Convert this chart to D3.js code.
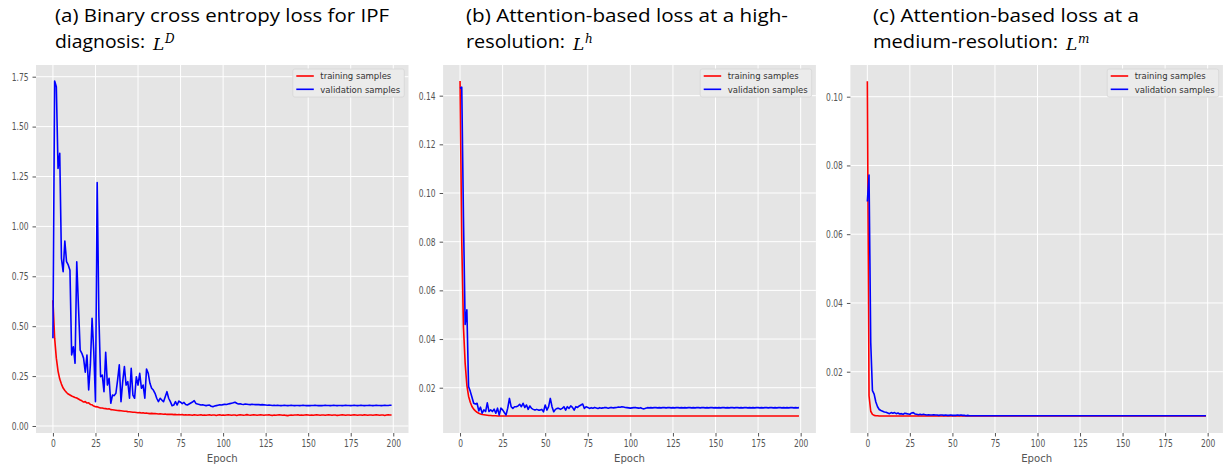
<!DOCTYPE html>
<html><head><meta charset="utf-8">
<script src="https://cdn.jsdelivr.net/npm/d3@7"></script>
<style>body{margin:0;background:#fff;} svg{display:block;}</style>
</head><body>
<svg id="chart" width="1228" height="468"></svg>
<script>
// ---------------- data ----------------
const epochs = d3.range(0, 200);
const xTicks = [0, 25, 50, 75, 100, 125, 150, 175, 200];
const yTicksA = [0.00, 0.25, 0.50, 0.75, 1.00, 1.25, 1.50, 1.75];
const yTicksB = [0.02, 0.04, 0.06, 0.08, 0.10, 0.12, 0.14];
const yTicksC = [0.02, 0.04, 0.06, 0.08, 0.10];
const seriesNames = ["training samples", "validation samples"];
const xLabel = "Epoch";

const trainA = [
0.63,0.44,0.34,0.275,0.235,0.21,0.19,0.178,0.168,0.16,
0.155,0.15,0.147,0.143,0.14,0.135,0.13,0.126,0.12,0.122,
0.115,0.116,0.108,0.106,0.1,0.097,0.096,0.093,0.09,0.09,
0.088,0.087,0.085,0.086,0.082,0.081,0.08,0.079,0.078,0.077,
0.076,0.075,0.074,0.074,0.072,0.071,0.07,0.069,0.069,0.068,
0.066,0.067,0.065,0.066,0.064,0.065,0.063,0.062,0.063,0.062,
0.062,0.061,0.06,0.061,0.06,0.059,0.06,0.058,0.059,0.058,
0.058,0.057,0.058,0.056,0.057,0.056,0.057,0.055,0.056,0.055,
0.056,0.055,0.054,0.056,0.055,0.054,0.055,0.056,0.054,0.055,
0.054,0.055,0.056,0.054,0.055,0.055,0.053,0.055,0.056,0.054,
0.055,0.054,0.055,0.056,0.055,0.054,0.055,0.055,0.053,0.055,
0.056,0.055,0.054,0.055,0.057,0.055,0.054,0.055,0.056,0.055,
0.054,0.055,0.056,0.055,0.054,0.055,0.055,0.056,0.054,0.053,
0.055,0.054,0.055,0.056,0.055,0.054,0.055,0.053,0.052,0.054,
0.055,0.054,0.055,0.055,0.056,0.054,0.055,0.054,0.055,0.056,
0.055,0.054,0.055,0.054,0.055,0.056,0.055,0.054,0.055,0.055,
0.054,0.055,0.056,0.055,0.054,0.055,0.055,0.053,0.054,0.055,
0.056,0.055,0.054,0.055,0.055,0.054,0.055,0.056,0.055,0.054,
0.055,0.055,0.054,0.056,0.055,0.054,0.055,0.055,0.054,0.055,
0.056,0.055,0.054,0.055,0.055,0.053,0.055,0.056,0.055,0.055];

const validA = [
0.44,1.728,1.70,1.29,1.366,0.84,0.773,0.927,0.823,0.807,
0.78,0.356,0.397,0.314,0.823,0.6,0.38,0.364,0.34,0.27,
0.356,0.18,0.306,0.54,0.372,0.122,1.22,0.55,0.247,0.255,
0.172,0.369,0.205,0.239,0.114,0.155,0.152,0.164,0.23,0.306,
0.122,0.222,0.298,0.205,0.222,0.139,0.289,0.155,0.139,0.247,
0.205,0.264,0.189,0.205,0.139,0.285,0.264,0.214,0.189,0.18,
0.164,0.139,0.122,0.139,0.13,0.122,0.147,0.172,0.139,0.122,
0.102,0.105,0.122,0.105,0.125,0.119,0.112,0.118,0.108,0.105,
0.11,0.115,0.12,0.127,0.113,0.11,0.108,0.105,0.106,0.104,
0.102,0.104,0.105,0.099,0.097,0.1,0.102,0.104,0.106,0.105,
0.107,0.109,0.108,0.11,0.112,0.114,0.116,0.119,0.114,0.11,
0.111,0.109,0.108,0.11,0.109,0.108,0.107,0.109,0.108,0.107,
0.108,0.107,0.106,0.107,0.106,0.105,0.104,0.105,0.104,0.103,
0.104,0.103,0.104,0.103,0.102,0.103,0.104,0.103,0.102,0.103,
0.104,0.103,0.102,0.103,0.103,0.102,0.103,0.104,0.103,0.102,
0.103,0.102,0.103,0.103,0.104,0.103,0.102,0.103,0.102,0.103,
0.104,0.103,0.103,0.102,0.103,0.104,0.103,0.102,0.103,0.103,
0.102,0.103,0.104,0.103,0.103,0.102,0.103,0.104,0.103,0.102,
0.103,0.104,0.103,0.102,0.103,0.103,0.104,0.103,0.102,0.103,
0.104,0.103,0.103,0.102,0.103,0.104,0.103,0.103,0.104,0.104];

const trainB = [
0.146,0.08,0.045,0.03,0.021,0.0165,0.014,0.0123,0.0112,0.0105,
0.0099,0.0095,0.0092,0.009,0.0089,0.0088,0.0087,0.0086,0.0086,0.0085,
0.0085,0.0085,0.0084,0.0084,0.0084,0.0084,0.0084,0.0084,0.0084,0.0084,
0.0084,0.0084,0.0084,0.0084,0.0084,0.0084,0.0084,0.0084,0.0084,0.0084,
0.0084,0.0084,0.0084,0.0084,0.0084,0.0084,0.0084,0.0084,0.0084,0.0084,
0.0084,0.0084,0.0084,0.0084,0.0084,0.0084,0.0084,0.0084,0.0084,0.0084,
0.0084,0.0084,0.0084,0.0084,0.0084,0.0084,0.0084,0.0084,0.0084,0.0084,
0.0084,0.0084,0.0084,0.0084,0.0084,0.0084,0.0084,0.0084,0.0084,0.0084,
0.0084,0.0084,0.0084,0.0084,0.0084,0.0084,0.0084,0.0084,0.0084,0.0084,
0.0084,0.0084,0.0084,0.0084,0.0084,0.0084,0.0084,0.0084,0.0084,0.0084,
0.0084,0.0084,0.0084,0.0084,0.0084,0.0084,0.0084,0.0084,0.0084,0.0084,
0.0084,0.0084,0.0084,0.0084,0.0084,0.0084,0.0084,0.0084,0.0084,0.0084,
0.0084,0.0084,0.0084,0.0084,0.0084,0.0084,0.0084,0.0084,0.0084,0.0084,
0.0084,0.0084,0.0084,0.0084,0.0084,0.0084,0.0084,0.0084,0.0084,0.0084,
0.0084,0.0084,0.0084,0.0084,0.0084,0.0084,0.0084,0.0084,0.0084,0.0084,
0.0084,0.0084,0.0084,0.0084,0.0084,0.0084,0.0084,0.0084,0.0084,0.0084,
0.0084,0.0084,0.0084,0.0084,0.0084,0.0084,0.0084,0.0084,0.0084,0.0084,
0.0084,0.0084,0.0084,0.0084,0.0084,0.0084,0.0084,0.0084,0.0084,0.0084,
0.0084,0.0084,0.0084,0.0084,0.0084,0.0084,0.0084,0.0084,0.0084,0.0084,
0.0084,0.0084,0.0084,0.0084,0.0084,0.0084,0.0084,0.0084,0.0084,0.0084];

const validB = [
0.143,0.1435,0.09,0.046,0.052,0.0205,0.0185,0.0161,0.0136,0.0133,
0.0136,0.0105,0.012,0.0095,0.0109,0.0102,0.0138,0.0102,0.0109,0.0102,
0.0112,0.0095,0.0116,0.0088,0.0116,0.0109,0.0098,0.0088,0.0116,0.0156,
0.0122,0.0115,0.0122,0.0122,0.0125,0.0132,0.0122,0.0136,0.0119,0.0129,
0.0111,0.0125,0.0115,0.0111,0.0108,0.0111,0.0108,0.0108,0.0111,0.0101,
0.0129,0.0108,0.0122,0.0156,0.0122,0.0101,0.0111,0.0115,0.0115,0.0111,
0.0115,0.0122,0.0108,0.0122,0.0115,0.0125,0.0119,0.0108,0.0122,0.0119,
0.0125,0.0129,0.0133,0.0115,0.0122,0.0119,0.0115,0.0118,0.0116,0.0119,
0.0117,0.0115,0.0118,0.0116,0.0117,0.0119,0.0118,0.0116,0.0118,0.0119,
0.0117,0.0118,0.0119,0.0121,0.012,0.0122,0.0121,0.0119,0.0118,0.0117,
0.0116,0.0117,0.0118,0.0119,0.0117,0.0116,0.0118,0.0115,0.0113,0.0116,
0.0118,0.0117,0.0118,0.0117,0.0118,0.0118,0.0117,0.0118,0.0117,0.0118,
0.0118,0.0117,0.0118,0.0118,0.0117,0.0118,0.0117,0.0118,0.0118,0.0117,
0.0118,0.0117,0.0118,0.0117,0.0118,0.0118,0.0117,0.0118,0.0117,0.0118,
0.0118,0.0117,0.0118,0.0118,0.0117,0.0118,0.0117,0.0118,0.0118,0.0117,
0.0118,0.0117,0.0118,0.0117,0.0118,0.0118,0.0117,0.0118,0.0117,0.0118,
0.0118,0.0117,0.0118,0.0118,0.0117,0.0118,0.0117,0.0118,0.0118,0.0117,
0.0118,0.0117,0.0118,0.0117,0.0118,0.0118,0.0117,0.0118,0.0117,0.0118,
0.0118,0.0117,0.0118,0.0118,0.0117,0.0118,0.0117,0.0118,0.0118,0.0117,
0.0118,0.0117,0.0118,0.0117,0.0118,0.0118,0.0117,0.0118,0.0117,0.0118];

const trainC = [
0.1045,0.013,0.0085,0.0076,0.0073,0.0072,0.0072,0.0071,0.0071,0.0071,
0.0071,0.0071,0.0071,0.0071,0.0071,0.0071,0.0071,0.0071,0.0071,0.0071,
0.0071,0.0071,0.0071,0.0071,0.0071,0.0071,0.0071,0.0071,0.0071,0.0071,
0.0071,0.0071,0.0071,0.0071,0.0071,0.0071,0.0071,0.0071,0.0071,0.0071,
0.0071,0.0071,0.0071,0.0071,0.0071,0.0071,0.0071,0.0071,0.0071,0.0071,
0.0071,0.0071,0.0071,0.0071,0.0071,0.0071,0.0071,0.0071,0.0071,0.0071,
0.0071,0.0071,0.0071,0.0071,0.0071,0.0071,0.0071,0.0071,0.0071,0.0071,
0.0071,0.0071,0.0071,0.0071,0.0071,0.0071,0.0071,0.0071,0.0071,0.0071,
0.0071,0.0071,0.0071,0.0071,0.0071,0.0071,0.0071,0.0071,0.0071,0.0071,
0.0071,0.0071,0.0071,0.0071,0.0071,0.0071,0.0071,0.0071,0.0071,0.0071,
0.0071,0.0071,0.0071,0.0071,0.0071,0.0071,0.0071,0.0071,0.0071,0.0071,
0.0071,0.0071,0.0071,0.0071,0.0071,0.0071,0.0071,0.0071,0.0071,0.0071,
0.0071,0.0071,0.0071,0.0071,0.0071,0.0071,0.0071,0.0071,0.0071,0.0071,
0.0071,0.0071,0.0071,0.0071,0.0071,0.0071,0.0071,0.0071,0.0071,0.0071,
0.0071,0.0071,0.0071,0.0071,0.0071,0.0071,0.0071,0.0071,0.0071,0.0071,
0.0071,0.0071,0.0071,0.0071,0.0071,0.0071,0.0071,0.0071,0.0071,0.0071,
0.0071,0.0071,0.0071,0.0071,0.0071,0.0071,0.0071,0.0071,0.0071,0.0071,
0.0071,0.0071,0.0071,0.0071,0.0071,0.0071,0.0071,0.0071,0.0071,0.0071,
0.0071,0.0071,0.0071,0.0071,0.0071,0.0071,0.0071,0.0071,0.0071,0.0071,
0.0071,0.0071,0.0071,0.0071,0.0071,0.0071,0.0071,0.0071,0.0071,0.0071];

const validC = [
0.0695,0.0772,0.0285,0.0145,0.0135,0.0112,0.0098,0.009,0.0087,0.0085,
0.0083,0.0082,0.008,0.0078,0.0081,0.0079,0.0081,0.0078,0.008,0.0077,
0.0078,0.0076,0.0079,0.0078,0.0077,0.0076,0.008,0.0081,0.0077,0.0076,
0.0075,0.0076,0.0075,0.0076,0.0075,0.0074,0.0075,0.0074,0.0074,0.0075,
0.0074,0.0074,0.0073,0.0074,0.0074,0.0073,0.0074,0.0073,0.0073,0.0074,
0.0073,0.0073,0.0073,0.0074,0.0073,0.0074,0.0073,0.0073,0.0072,0.0073,
0.0072,0.0072,0.0072,0.0072,0.0072,0.0072,0.0072,0.0072,0.0072,0.0072,
0.0072,0.0072,0.0072,0.0072,0.0072,0.0072,0.0072,0.0072,0.0072,0.0072,
0.0072,0.0072,0.0072,0.0072,0.0072,0.0072,0.0072,0.0072,0.0072,0.0072,
0.0072,0.0072,0.0072,0.0072,0.0072,0.0072,0.0072,0.0072,0.0072,0.0072,
0.0072,0.0072,0.0072,0.0072,0.0072,0.0072,0.0072,0.0072,0.0072,0.0072,
0.0072,0.0072,0.0072,0.0072,0.0072,0.0072,0.0072,0.0072,0.0072,0.0072,
0.0072,0.0072,0.0072,0.0072,0.0072,0.0072,0.0072,0.0072,0.0072,0.0072,
0.0072,0.0072,0.0072,0.0072,0.0072,0.0072,0.0072,0.0072,0.0072,0.0072,
0.0072,0.0072,0.0072,0.0072,0.0072,0.0072,0.0072,0.0072,0.0072,0.0072,
0.0072,0.0072,0.0072,0.0072,0.0072,0.0072,0.0072,0.0072,0.0072,0.0072,
0.0072,0.0072,0.0072,0.0072,0.0072,0.0072,0.0072,0.0072,0.0072,0.0072,
0.0072,0.0072,0.0072,0.0072,0.0072,0.0072,0.0072,0.0072,0.0072,0.0072,
0.0072,0.0072,0.0072,0.0072,0.0072,0.0072,0.0072,0.0072,0.0072,0.0072,
0.0072,0.0072,0.0072,0.0072,0.0072,0.0072,0.0072,0.0072,0.0072,0.0072];

const titlesLine1 = ["(a) Binary cross entropy loss for IPF", "(b) Attention-based loss at a high-", "(c) Attention-based loss at a"];
const titlesLine2 = ["diagnosis:", "resolution:", "medium-resolution:"];
const titleSym = ["D", "h", "m"];

// ---------------- layout ----------------
const svg = d3.select("#chart");
const TOP = 65, BOTTOM = 433;
const panels = [
  { left: 36, right: 408.5, yDomain: [-0.0351, 1.8086], yTicks: yTicksA, train: trainA, valid: validA,
    tx: 55, w1: 334, w2: 90 },
  { left: 443.1, right: 815.9, yDomain: [0.00139, 0.1526], yTicks: yTicksB, train: trainB, valid: validB,
    tx: 466, w1: 322, w2: 99 },
  { left: 850.4, right: 1222.9, yDomain: [0.00217, 0.10922], yTicks: yTicksC, train: trainC, valid: validC,
    tx: 873, w1: 266, w2: 185 }
];
const SX = 0.72; // horizontal squash of the small matplotlib texts

panels.forEach((p, i) => {
  const x = d3.scaleLinear().domain([-9.95, 208.95]).range([p.left, p.right]);
  const y = d3.scaleLinear().domain(p.yDomain).range([BOTTOM, TOP]);
  const g = svg.append("g");

  g.append("rect").attr("x", p.left).attr("y", TOP)
    .attr("width", p.right - p.left).attr("height", BOTTOM - TOP).attr("fill", "#e5e5e5");

  // grid
  g.append("g").selectAll("line").data(xTicks).join("line")
    .attr("x1", d => x(d)).attr("x2", d => x(d)).attr("y1", TOP).attr("y2", BOTTOM)
    .attr("stroke", "#fff").attr("stroke-width", 1);
  g.append("g").selectAll("line").data(p.yTicks).join("line")
    .attr("x1", p.left).attr("x2", p.right).attr("y1", d => y(d)).attr("y2", d => y(d))
    .attr("stroke", "#fff").attr("stroke-width", 1);

  // axes
  const fmt = d3.format(".2f");
  const ax = g.append("g").attr("transform", `translate(0,${BOTTOM})`)
    .call(d3.axisBottom(x).tickValues(xTicks).tickSize(3.5).tickPadding(3));
  ax.select(".domain").remove();
  ax.selectAll(".tick line").attr("stroke", "#555");
  ax.selectAll(".tick text").attr("fill", "#555").attr("font-size", 10.5)
    .attr("font-family", "DejaVu Sans").attr("y", 14.5).attr("dy", 0)
    .attr("transform", `scale(${SX},1)`);

  const ay = g.append("g").attr("transform", `translate(${p.left},0)`)
    .call(d3.axisLeft(y).tickValues(p.yTicks).tickFormat(fmt).tickSize(3.5).tickPadding(3));
  ay.select(".domain").remove();
  ay.selectAll(".tick line").attr("stroke", "#555");
  ay.selectAll(".tick text").attr("fill", "#555").attr("font-size", 10.5)
    .attr("font-family", "DejaVu Sans").attr("x", -7.5 / SX)
    .attr("transform", `scale(${SX},1)`);

  // lines
  const line = d3.line().x((d, k) => x(epochs[k])).y(d => y(d));
  g.append("path").datum(p.train).attr("d", line).attr("fill", "none")
    .attr("stroke", "#ff0000").attr("stroke-width", 1.6).attr("stroke-linejoin", "round");
  g.append("path").datum(p.valid).attr("d", line).attr("fill", "none")
    .attr("stroke", "#0000ff").attr("stroke-width", 1.6).attr("stroke-linejoin", "round");

  // legend
  const bw = 111.5, bl = p.right - 4.2 - bw;
  const lg = g.append("g");
  lg.append("rect").attr("x", bl).attr("y", TOP + 4).attr("width", bw).attr("height", 28)
    .attr("rx", 2).attr("fill", "#ebebeb").attr("stroke", "#d6d6d6").attr("stroke-width", 0.8);
  const colors = ["#ff0000", "#0000ff"];
  const widths = [71, 80];
  seriesNames.forEach((nm, k) => {
    const ly = TOP + 11 + k * 13.3;
    lg.append("line").attr("x1", bl + 3.5).attr("x2", bl + 21).attr("y1", ly).attr("y2", ly)
      .attr("stroke", colors[k]).attr("stroke-width", 1.6);
    lg.append("text").attr("x", bl + 27.5).attr("y", ly + 3.2).text(nm)
      .attr("font-family", "DejaVu Sans").attr("font-size", 9.5).attr("fill", "#333")
      .attr("textLength", widths[k]).attr("lengthAdjust", "spacingAndGlyphs");
  });

  // x label
  g.append("text").attr("x", (p.left + p.right) / 2).attr("y", 461.5).attr("text-anchor", "middle")
    .attr("font-family", "DejaVu Sans").attr("font-size", 11).attr("fill", "#555")
    .attr("textLength", 31).attr("lengthAdjust", "spacingAndGlyphs").text(xLabel);

  // titles
  g.append("text").attr("x", p.tx).attr("y", 22).text(titlesLine1[i])
    .attr("font-family", "Open Sans").attr("font-size", 19).attr("fill", "#000")
    .attr("textLength", p.w1).attr("lengthAdjust", "spacingAndGlyphs");
  g.append("text").attr("x", p.tx).attr("y", 48).text(titlesLine2[i])
    .attr("font-family", "Open Sans").attr("font-size", 19).attr("fill", "#000")
    .attr("textLength", p.w2).attr("lengthAdjust", "spacingAndGlyphs");
  const mx = p.tx + p.w2 + 8;
  g.append("text").attr("x", mx).attr("y", 50)
    .attr("font-family", "DejaVu Serif").attr("font-style", "italic").attr("fill", "#000")
    .attr("font-size", 17).text("L");
  g.append("text").attr("x", mx + 12).attr("y", 43)
    .attr("font-family", "DejaVu Serif").attr("font-style", "italic").attr("fill", "#000")
    .attr("font-size", 12).text(titleSym[i]);
});
</script>
</body></html>
